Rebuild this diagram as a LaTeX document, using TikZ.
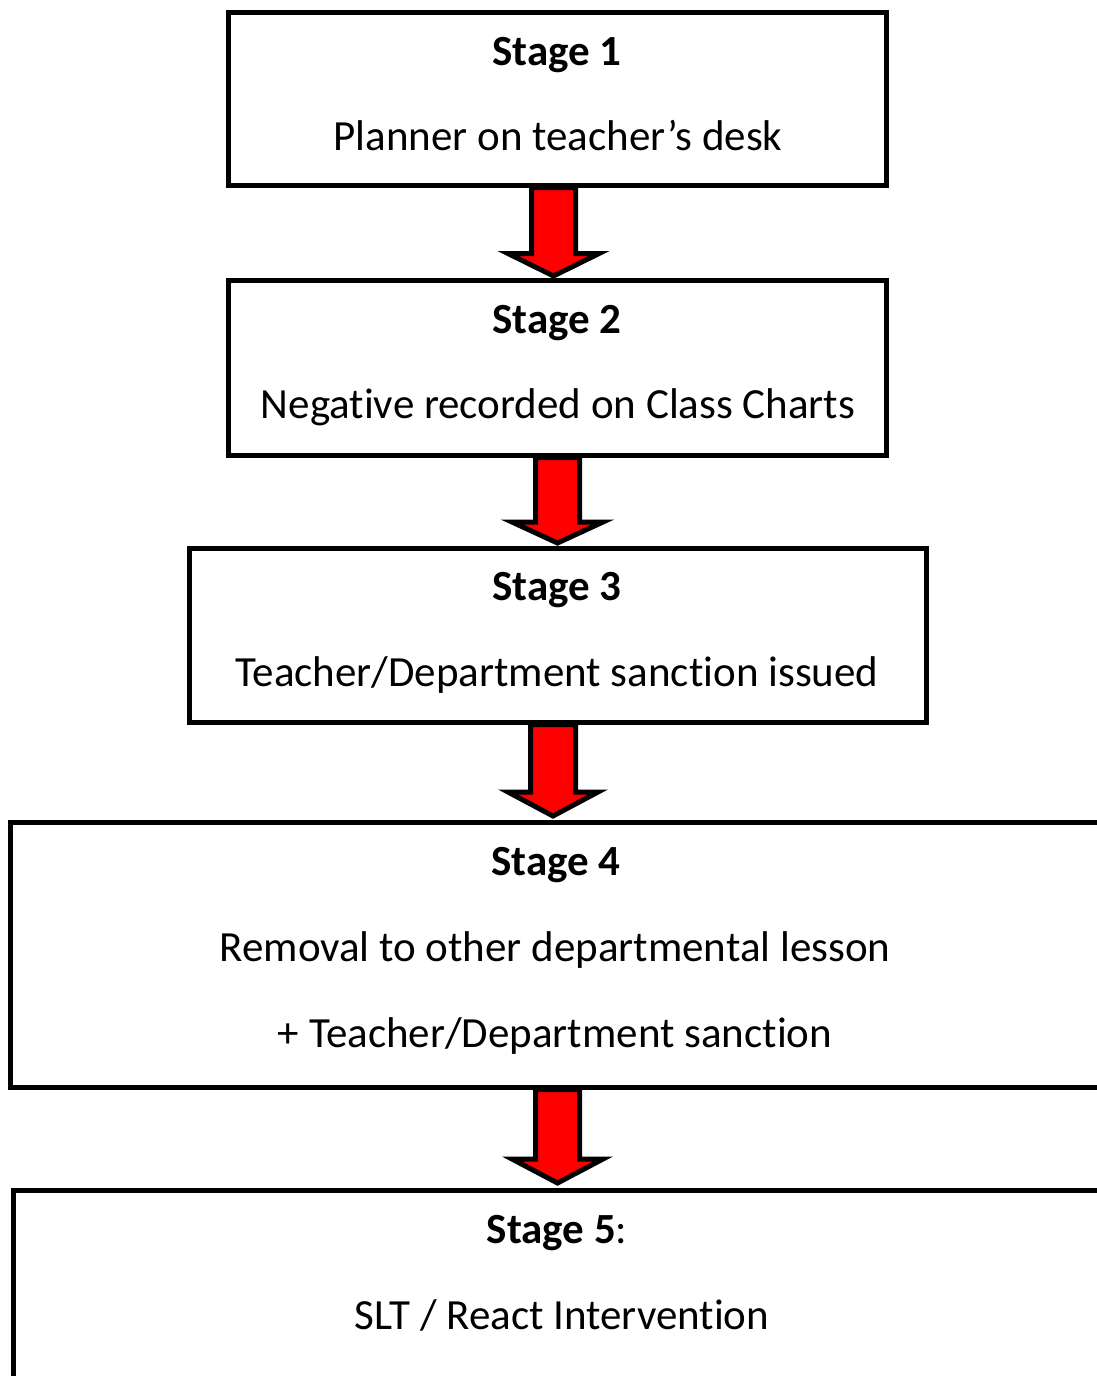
\documentclass[tikz,border=0pt]{standalone}
\usepackage{fontspec}
\setmainfont{Carlito}[RawFeature={-liga}]
\usetikzlibrary{calc}
\begin{document}
\begin{tikzpicture}[x=1pt,y=-1pt,
  box/.style={draw=black,line width=5pt,rectangle,inner sep=0pt},
  txt/.style={anchor=base,inner sep=0pt,font=\fontsize{43}{50}\selectfont},
  btxt/.style={txt,font=\fontsize{43}{50}\selectfont\bfseries},
  blockarrow/.style={draw=black,fill=red,line width=5pt,line join=miter}]
\useasboundingbox (0,0) rectangle (1097,1376);
\clip (0,0) rectangle (1097,1376);
% boxes
\node[box,minimum width=658pt,minimum height=172.5pt] (b1) at (557.5,98.75) {};
\node[box,minimum width=658pt,minimum height=175pt] (b2) at (557.5,367.5) {};
\node[box,minimum width=737pt,minimum height=174pt] (b3) at (558,635) {};
\node[box,minimum width=1109.5pt,minimum height=265pt] (b4) at (565.25,954.5) {};
\node[box,minimum width=1106.5pt,minimum height=230pt] (b5) at (566.75,1305) {};
% texts
\node[btxt] (t1a) at (557,65) {Stage 1};
\node[txt] (t1b) at (558,150) {Planner on teacher’s desk};
\node[btxt] (t2a) at (557,333) {Stage 2};
\node[txt] (t2b) at (558,418) {Negative recorded on Class Charts};
\node[btxt] (t3a) at (557,600) {Stage 3};
\node[txt] (t3b) at (557,686) {Teacher/Department sanction issued};
\node[btxt] (t4a) at (556,875) {Stage 4};
\node[txt] (t4b) at (555,961) {Removal to other departmental lesson};
\node[txt] (t4c) at (555,1047) {+ Teacher/Department sanction};
\node[txt] (t5a) at (557,1243) {\textbf{Stage 5}:};
\node[txt] (t5b) at (562,1329) {SLT / React Intervention};
% block arrows
\draw[blockarrow] (531.5,0 |- b1.south) -- (575.5,0 |- b1.south) -- (575.5,253.5) -- (599,253.5) -- (553.5,276) -- (508,253.5) -- (531.5,253.5) -- cycle;
\draw[blockarrow] (535.5,0 |- b2.south) -- (579.5,0 |- b2.south) -- (579.5,522) -- (603,522) -- (557.5,543) -- (512,522) -- (535.5,522) -- cycle;
\draw[blockarrow] (530.5,0 |- b3.south) -- (575.5,0 |- b3.south) -- (575.5,792) -- (598,792) -- (553,816) -- (508,792) -- (530.5,792) -- cycle;
\draw[blockarrow] (535.5,0 |- b4.south) -- (579.5,0 |- b4.south) -- (579.5,1159) -- (603,1159) -- (557.5,1183) -- (512,1159) -- (535.5,1159) -- cycle;
\end{tikzpicture}
\end{document}
